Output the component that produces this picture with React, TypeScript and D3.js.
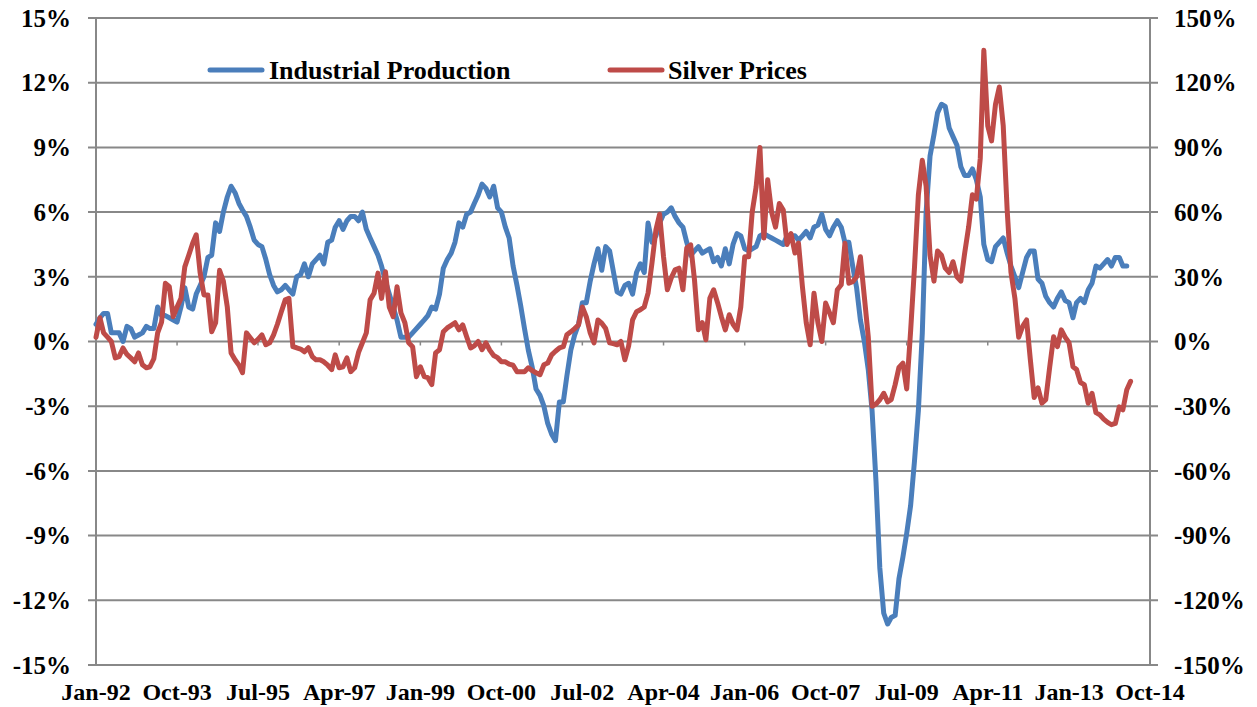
import React from "react";
import * as d3 from "d3";

// Month-by-month series starting Jan-92
const startMonth = "Jan-92";

const industrialProduction: number[] = [
  // 1992
  0.8, 1.1, 1.3, 1.3, 0.4, 0.4, 0.4, 0.0, 0.7, 0.6, 0.2, 0.3,
  // 1993
  0.4, 0.7, 0.6, 0.6, 1.6, 1.2, 1.2, 1.1, 1.0, 0.9, 1.6, 2.5,
  // 1994
  1.6, 1.5, 2.2, 2.6, 3.0, 3.9, 4.0, 5.5, 5.1, 6.0, 6.7, 7.2,
  // 1995
  6.9, 6.4, 6.1, 5.8, 5.3, 4.7, 4.5, 4.4, 3.8, 3.1, 2.6, 2.3,
  // 1996
  2.4, 2.6, 2.4, 2.2, 3.0, 3.1, 3.6, 3.0, 3.6, 3.8, 4.0, 3.6,
  // 1997
  4.6, 4.7, 5.3, 5.6, 5.2, 5.6, 5.8, 5.8, 5.6, 6.0, 5.2, 4.8,
  // 1998
  4.4, 4.0, 3.5, 2.8, 2.2, 1.6, 1.0, 0.2, 0.2, 0.2, 0.4, 0.6,
  // 1999
  0.8, 1.0, 1.2, 1.6, 1.5, 2.2, 3.4, 3.8, 4.1, 4.6, 5.5, 5.3,
  // 2000
  5.9, 6.0, 6.4, 6.8, 7.3, 7.1, 6.7, 7.2, 6.2, 6.0, 5.3, 4.8,
  // 2001
  3.5, 2.6, 1.7, 0.6, -0.4, -1.2, -2.2, -2.5, -3.0, -3.8, -4.3, -4.6,
  // 2002
  -2.8, -2.8, -1.6, -0.4, 0.3, 0.8, 1.8, 1.8, 2.8, 3.6, 4.3, 3.3,
  // 2003
  4.4, 4.2, 3.3, 2.3, 2.2, 2.6, 2.7, 2.2, 3.2, 3.6, 3.2, 5.5,
  // 2004
  4.6, 4.9, 5.5, 5.9, 6.0, 6.2, 5.8, 5.5, 5.3, 4.6, 4.0, 4.2,
  // 2005
  4.4, 4.1, 4.2, 4.3, 3.7, 3.9, 3.5, 4.3, 3.6, 4.5, 5.0, 4.9,
  // 2006
  4.3, 4.2, 4.3, 4.4, 4.9, 5.0, 4.9, 4.8, 4.7, 4.6, 4.5, 4.9,
  // 2007
  4.9, 4.9, 4.7, 4.9, 5.1, 4.8, 5.3, 5.4, 5.9, 5.2, 4.9, 5.3,
  // 2008
  5.6, 5.3, 4.6, 4.6, 3.5, 2.5, 1.0, 0.0, -1.3, -3.2, -6.5, -10.5,
  // 2009
  -12.6, -13.1, -12.8, -12.7, -11.0, -10.0, -8.9, -7.6, -5.5, -3.2, 0.4, 6.0,
  // 2010
  8.6, 9.6, 10.6, 11.0, 10.9, 9.9, 9.5, 9.1, 8.1, 7.7, 7.7, 8.0,
  // 2011
  7.5, 6.7, 4.5, 3.8, 3.7, 4.4, 4.6, 4.8, 4.1, 3.5, 3.0, 2.5,
  // 2012
  3.2, 3.9, 4.2, 4.2, 2.9, 2.7, 2.1, 1.8, 1.6, 2.0, 2.3, 1.9,
  // 2013
  1.8, 1.1, 1.8, 2.0, 1.8, 2.4, 2.7, 3.5, 3.4, 3.6, 3.8, 3.5,
  // 2014
  3.9, 3.9, 3.5, 3.5,
];

const silverPrices: number[] = [
  // 1992
  2, 11, 4, 2, 0, -7.6, -7, -3, -6, -7.6, -9.4, -5.3,
  // 1993
  -10.8, -12.2, -11.7, -8, 4, 9, 27, 25.4, 11.5, 16, 20, 34.6,
  // 1994
  40, 45.6, 49.5, 31.8, 21.6, 21.6, 4.5, 8.7, 33, 28, 16, -5.3,
  // 1995
  -8.5, -11, -14.5, 4, 1.7, -0.6, 1, 3.1, -1.5, -0.6, 3.1, 8,
  // 1996
  13.8, 19.3, 20, -2.4, -2.9, -3.5, -4.8, -2.9, -7, -8.5, -8.5, -9.4,
  // 1997
  -11, -13, -6.2, -12.2, -11.7, -7.6, -14, -12.2, -5, -0.6, 4, 19.3,
  // 1998
  22.4, 31.7, 20, 32.3, 16, 11.5, 25.4, 13.3, 8.7, -0.6, -2.4, -16.3,
  // 1999
  -11.7, -16.3, -16.8, -20, -5.3, -3.8, 4.5, 6.3, 7.5, 8.7, 5.4, 7.7,
  // 2000
  2.2, -3, -2, 0, -3.8, -0.6, -4, -6.5, -7.5, -9.4, -9.4, -10.5,
  // 2001
  -11, -14, -14, -14, -12.2, -13.5, -14.5, -15.4, -10.8, -10, -6.2, -4.5,
  // 2002
  -3, -2.4, 3.1, 4.5, 6, 7.7, 16, 11.5, 4, -0.6, 10, 8.5,
  // 2003
  6, -0.6, -1, -1.5, 0, -8.5, -2, 10, 13.8, 14.7, 16, 22.4,
  // 2004
  36.4, 51.8, 59, 39.3, 24, 29.5, 33.2, 34, 24, 43.4, 44.8, 28.6,
  // 2005
  5.4, 8.7, 0.8, 20, 24, 18, 11.5, 5.4, 12.4, 8, 5.4, 16,
  // 2006
  39.3, 39.3, 60, 71.7, 90, 48, 75, 60, 53, 64, 61, 45,
  // 2007
  50, 41, 45.6, 25.4, 8.7, -1.5, 22.4, 8.7, 0, 17.8, 13.3, 8.7,
  // 2008
  24, 26.3, 45.6, 27, 27.7, 30, 39.3, 20.7, 2.2, -30, -29, -27,
  // 2009
  -24, -28, -27, -20, -12, -10, -22, 5, 35, 68, 84, 72,
  // 2010
  40, 28, 42, 40, 34, 32, 37, 30, 28, 41, 53, 68,
  // 2011
  66, 85, 135, 100, 93, 110, 118, 100, 61, 32, 20, 2,
  // 2012
  7, 10, -8, -26, -21.5, -28.6, -27, -12, 2.2, -2.4, 5.4, 2,
  // 2013
  -0.6, -11.7, -13, -19, -20, -28.6, -24, -33, -34, -36, -37.5, -38.6,
  // 2014
  -38, -30.3, -31.7, -22.4, -18.5,
];

const xTickLabels = [
  "Jan-92", "Oct-93", "Jul-95", "Apr-97", "Jan-99", "Oct-00", "Jul-02",
  "Apr-04", "Jan-06", "Oct-07", "Jul-09", "Apr-11", "Jan-13", "Oct-14",
];
const leftTicks = [-15, -12, -9, -6, -3, 0, 3, 6, 9, 12, 15];
const rightTicks = [-150, -120, -90, -60, -30, 0, 30, 60, 90, 120, 150];

const seriesNames = ["Industrial Production", "Silver Prices"];
const seriesColors = ["#4A7EBB", "#BE4B48"];

const parseMonth = d3.timeParse("%b-%y");

export default function App() {
  const W = 1257;
  const H = 707;
  const left = 96;
  const right = 1150;
  const top = 18;
  const bottom = 665;

  const start = parseMonth(startMonth) as Date;
  const tickDates = xTickLabels.map((s) => parseMonth(s) as Date);

  const x = d3
    .scaleTime()
    .domain([tickDates[0], tickDates[tickDates.length - 1]])
    .range([left, right]);
  const yL = d3.scaleLinear().domain([-15, 15]).range([bottom, top]);
  const yR = d3.scaleLinear().domain([-150, 150]).range([bottom, top]);

  const dateAt = (i: number) => d3.timeMonth.offset(start, i);

  const lineL = d3
    .line<number>()
    .x((_, i) => x(dateAt(i)))
    .y((d) => yL(d));
  const lineR = d3
    .line<number>()
    .x((_, i) => x(dateAt(i)))
    .y((d) => yR(d));

  const grid = "#888888";
  const font = "'Liberation Serif', 'Times New Roman', serif";

  return (
    <svg
      width={W}
      height={H}
      style={{ position: "absolute", left: 0, top: 0, background: "#fff" }}
      fontFamily={font}
      fontWeight="bold"
    >
      {/* gridlines with outer ticks */}
      {leftTicks.map((t) => (
        <line
          key={"g" + t}
          x1={left - 8}
          x2={right + 8}
          y1={yL(t)}
          y2={yL(t)}
          stroke={grid}
          strokeWidth={2}
        />
      ))}
      {/* vertical axes */}
      <line x1={left} x2={left} y1={top} y2={bottom} stroke={grid} strokeWidth={2} />
      <line x1={right} x2={right} y1={top} y2={bottom} stroke={grid} strokeWidth={2} />
      {/* x axis ticks at 0 */}
      {tickDates.map((d, i) => (
        <line
          key={"xt" + i}
          x1={x(d)}
          x2={x(d)}
          y1={yL(0)}
          y2={yL(0) + 4}
          stroke={grid}
          strokeWidth={1.5}
        />
      ))}
      {/* left labels */}
      {leftTicks.map((t) => (
        <text key={"l" + t} x={71} y={yL(t)} dy="0.35em" textAnchor="end" fontSize={25} fill="#000">
          {t + "%"}
        </text>
      ))}
      {/* right labels */}
      {rightTicks.map((t) => (
        <text key={"r" + t} x={1174} y={yR(t)} dy="0.35em" textAnchor="start" fontSize={25} fill="#000">
          {t + "%"}
        </text>
      ))}
      {/* x labels */}
      {tickDates.map((d, i) => (
        <text key={"xl" + i} x={x(d)} y={700} textAnchor="middle" fontSize={24} fill="#000">
          {xTickLabels[i]}
        </text>
      ))}
      {/* series */}
      <path
        d={lineL(industrialProduction) || ""}
        fill="none"
        stroke={seriesColors[0]}
        strokeWidth={5}
        strokeLinejoin="round"
        strokeLinecap="round"
      />
      <path
        d={lineR(silverPrices) || ""}
        fill="none"
        stroke={seriesColors[1]}
        strokeWidth={5}
        strokeLinejoin="round"
        strokeLinecap="round"
      />
      {/* legend */}
      <line x1={210} x2={262} y1={70} y2={70} stroke={seriesColors[0]} strokeWidth={5} strokeLinecap="round" />
      <text x={269} y={70} dy="0.33em" fontSize={26} fill="#000">
        {seriesNames[0]}
      </text>
      <line x1={610} x2={662} y1={70} y2={70} stroke={seriesColors[1]} strokeWidth={5} strokeLinecap="round" />
      <text x={668} y={70} dy="0.33em" fontSize={26} fill="#000">
        {seriesNames[1]}
      </text>
    </svg>
  );
}
